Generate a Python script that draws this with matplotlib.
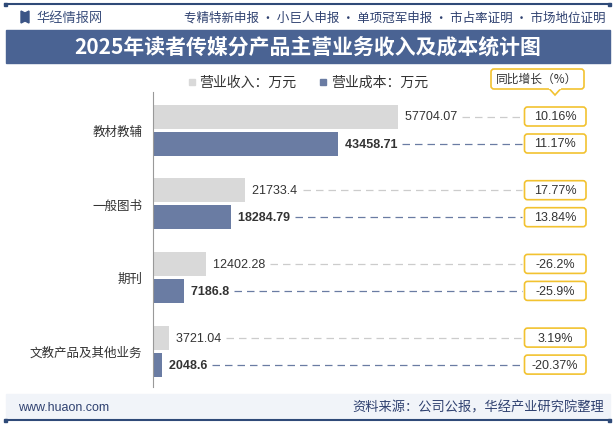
import matplotlib
matplotlib.use("Agg")
import matplotlib.pyplot as plt
from matplotlib.patches import FancyBboxPatch, Rectangle, Polygon

plt.rcParams['font.family'] = ['Noto Sans CJK SC', 'DejaVu Sans']

# data
categories = ["教材教辅", "一般图书", "期刊", "文教产品及其他业务"]
revenue = [57704.07, 21733.4, 12402.28, 3721.04]
cost = [43458.71, 18284.79, 7186.8, 2048.6]
revenue_yoy = ["10.16%", "17.77%", "-26.2%", "3.19%"]
cost_yoy = ["11.17%", "13.84%", "-25.9%", "-20.37%"]

W, H = 615, 427
gray = "#d9d9d9"
blue = "#6a7ca3"
band = "#4a6393"
dark = "#2f4a78"
gold = "#f2c230"
latin = ["Liberation Sans", "DejaVu Sans"]

fig = plt.figure(figsize=(W / 100, H / 100), dpi=100)

# overlay in pixel coordinates for header / footer decorations
ov = fig.add_axes([0, 0, 1, 1], zorder=0)
ov.set_xlim(0, W)
ov.set_ylim(H, 0)
ov.axis("off")

# top line
ov.plot([5, 610], [5, 5], color=dark, lw=1.5)
ov.add_patch(Rectangle((4, 3.5), 3, 3, color=dark))
ov.add_patch(Rectangle((608, 3.5), 3, 3, color=dark))
# header
ov.add_patch(Polygon([(21, 12), (25, 14), (29, 12), (29, 24), (25, 22), (21, 24)], color="#3b5586"))
ov.text(36, 18, "华经情报网", fontsize=9.5, color="#3b4f7c", va="center")
ov.text(605, 18, "专精特新申报 · 小巨人申报 · 单项冠军申报 · 市占率证明 · 市场地位证明",
        fontsize=9, color="#2f4170", va="center", ha="right")
# title band
ov.add_patch(Rectangle((6, 31), 604, 33, color=band))
ov.text(308, 47.5, "2025年读者传媒分产品主营业务收入及成本统计图", fontsize=15,
        fontweight="bold", color="white", ha="center", va="center")
# footer
ov.add_patch(Rectangle((6, 395), 604, 25, color="#f1f4f9"))
ov.plot([6, 610], [421, 421], color=dark, lw=1.5)
ov.add_patch(Rectangle((4, 419.5), 3, 3, color=dark))
ov.add_patch(Rectangle((608, 419.5), 3, 3, color=dark))
ov.text(18, 408, "www.huaon.com", fontsize=9, color="#2f4170", va="center", family=latin)
ov.text(604, 408, "资料来源：公司公报，华经产业研究院整理", fontsize=9.5, color="#2f4170",
        va="center", ha="right")

# legend
ov.add_patch(Rectangle((189, 80), 6, 6, color=gray))
ov.text(199, 83, "营业收入：万元", fontsize=10, color="#333333", va="center")
ov.add_patch(Rectangle((320, 80), 6, 6, color=blue))
ov.text(331, 83, "营业成本：万元", fontsize=10, color="#333333", va="center")

# callout
ov.add_patch(FancyBboxPatch((491, 70), 93, 20, boxstyle="round,pad=0,rounding_size=3",
                            fc="white", ec=gold, lw=1.2))
ov.add_patch(Polygon([(549, 89.4), (555, 96), (561, 89.4)], closed=False, fc="white", ec=gold, lw=1.2))
ov.plot([549.6, 560.4], [89.4, 89.4], color="white", lw=1.6)
ov.text(537, 79.5, "同比增长（%）", fontsize=8.5, color="#333333", ha="center", va="center")

# main axes
left, right, top, bottom = 153.3, 610, 93, 388
ax = fig.add_axes([left / W, 1 - bottom / H, (right - left) / W, (bottom - top) / H], zorder=1)
ax.patch.set_alpha(0)
pitch = 73.7
ax.set_ylim((bottom - 131) / pitch, (top - 131) / pitch)
ax.set_xlim(0, (right - left) / (244.7 / 57704.07))

ypos = list(range(len(categories)))
off = 13.5 / pitch
bh = 24 / pitch
ax.barh([y - off for y in ypos], revenue, height=bh, color=gray)
ax.barh([y + off for y in ypos], cost, height=bh, color=blue)

ax.set_yticks(ypos)
ax.set_yticklabels(categories, fontsize=9, color="#333333")
ax.tick_params(axis="y", length=0, pad=8)
ax.set_xticks([])
for s in ["top", "right", "bottom"]:
    ax.spines[s].set_visible(False)
ax.spines["left"].set_color("#999999")

rows = []
for y, v, p in zip(ypos, revenue, revenue_yoy):
    t = ax.text(v, y - off, f"  {v}", fontsize=9, color="#333333", va="center", family=latin)
    rows.append((t, y - off, "#cccccc", p))
for y, v, p in zip(ypos, cost, cost_yoy):
    t = ax.text(v, y + off, f"  {v}", fontsize=9, color="#333333", fontweight="bold",
                va="center", family=latin)
    rows.append((t, y + off, "#6a7ca3", p))

# dashed leaders and yoy boxes, placed in pixel space of the overlay
fig.canvas.draw()
inv = ov.transData.inverted()
for t, y, c, p in rows:
    bb = t.get_window_extent()
    xend = inv.transform((bb.x1, bb.y0))[0]
    py = inv.transform(ax.transData.transform((0, y)))[1]
    ov.plot([xend + 5, 522], [py, py], color=c, lw=0.9, ls=(0, (6, 4)))
    ov.add_patch(FancyBboxPatch((524.5, py - 9.5), 61.5, 19, boxstyle="round,pad=0,rounding_size=3",
                                fc="white", ec=gold, lw=1.2))
    ov.text(555, py, p, fontsize=9, color="#333333", ha="center", va="center", family=latin)

fig.savefig("out.png", dpi=100)
